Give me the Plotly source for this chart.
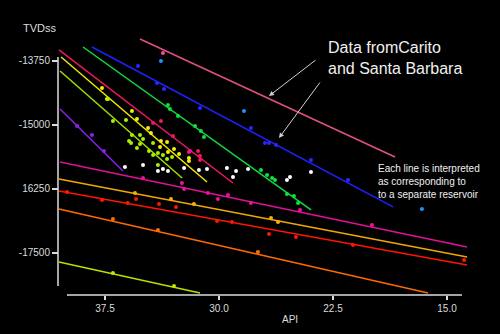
import plotly.graph_objects as go

# ---- Trend lines (API start, API end, TVDss start, TVDss end) ----
pink_line_api = [35.20, 18.42];   pink_line_tvd = [-13320, -15625]
blue_line_api = [38.36, 18.55];   blue_line_tvd = [-13477, -16601]
green_line_api = [38.95, 23.95];  green_line_tvd = [-13477, -16660]
crimson_line_api = [40.53, 29.08]; crimson_line_tvd = [-13535, -16133]
yellow_line_api = [40.39, 30.79]; yellow_line_tvd = [-13672, -16113]
chart_line_api = [40.46, 32.43];  chart_line_tvd = [-13945, -16035]
purple_line_api = [40.46, 36.32]; purple_line_tvd = [-14687, -15898]
magenta_line_api = [40.46, 13.68]; magenta_line_tvd = [-15723, -17383]
amber_line_api = [40.53, 13.68];  amber_line_tvd = [-16055, -17578]
red_line_api = [40.53, 13.68];    red_line_tvd = [-16289, -17734]
orange_line_api = [40.53, 16.25]; orange_line_tvd = [-16640, -18281]
lime_line_api = [40.53, 31.25];   lime_line_tvd = [-17676, -18281]

# ---- Well data points ----
pink_api = [33.69]; pink_tvd = [-13594]
ltblue_api = [33.82, 28.36, 16.65]; ltblue_tvd = [-13750, -14727, -16641]
blue_api = [35.33, 34.08, 33.62, 31.25, 27.90, 26.98, 26.71, 26.25, 23.95, 21.51]
blue_tvd = [-13848, -14180, -14297, -14668, -15059, -15352, -15352, -15391, -15684, -16074]
green_api = [33.36, 33.23, 32.70, 31.58, 31.19, 30.99, 27.24, 26.84, 26.51, 26.32, 25.53, 25.07, 24.80]
green_tvd = [-14610, -14688, -14824, -15020, -15117, -15235, -15879, -15977, -16035, -16074, -16348, -16387, -16524]
crimson_api = [34.34, 33.82, 33.03, 31.98, 31.38, 31.25, 31.25]
crimson_tvd = [-14961, -14922, -15215, -15528, -15508, -15606, -15684]
yellow_api = [37.70, 37.37, 35.73, 35.40, 34.67, 34.48, 33.82, 33.42, 33.88, 33.36, 32.96, 32.63, 31.98, 31.98]
yellow_tvd = [-14278, -14492, -14727, -14883, -15059, -15156, -15313, -15332, -15430, -15528, -15469, -15567, -15645, -15703]
chart_api = [37.30, 36.98, 36.12, 35.73, 35.20, 35.92, 35.79, 35.20, 35.00, 34.34, 35.40, 34.61, 34.02, 34.34, 33.69, 33.09, 33.42, 34.02]
chart_tvd = [-14492, -14922, -14903, -15196, -15196, -15313, -15352, -15371, -15274, -15352, -15449, -15508, -15547, -15586, -15586, -15625, -15664, -15781]
purple_api = [39.34, 38.36, 37.57]; purple_tvd = [-15020, -15196, -15508]
white_api = [36.19, 35.00, 34.02, 33.69, 33.36, 32.30, 31.32, 30.79, 29.48, 28.88, 29.08, 28.09, 25.53, 25.33, 23.95]
white_tvd = [-15821, -15781, -15899, -15860, -15899, -15840, -15879, -15860, -15840, -15899, -16016, -15860, -16074, -16016, -15918]
magenta_api = [35.00, 32.44, 32.30, 31.91, 30.73, 30.07, 29.41, 27.90, 24.67, 19.94]
magenta_tvd = [-16035, -16133, -16250, -15508, -16328, -16445, -16367, -16524, -16660, -16953]
amber_api = [35.53, 33.16, 31.65, 26.58, 26.12]
amber_tvd = [-16328, -16445, -16543, -16817, -16895]
red_api = [40.00, 37.70, 36.01, 35.46, 33.95, 32.83, 30.13, 29.15, 26.71, 24.94, 21.19, 13.88]
red_tvd = [-16309, -16465, -16524, -16445, -16543, -16602, -16875, -16895, -17129, -17188, -17344, -17637]
orange_api = [36.98, 34.02, 27.44]; orange_tvd = [-16836, -17051, -17481]
lime_api = [36.98, 32.96]; lime_tvd = [-17891, -18145]

# ---- Axis ticks ----
x_tickvals = [37.5, 30.0, 22.5, 15.0]
x_ticktext = ["37.5", "30.0", "22.5", "15.0"]
y_tickvals = [-13750, -15000, -16250, -17500]
y_ticktext = ["-13750", "-15000", "16250", "-17500"]

lines = [
    (pink_line_api, pink_line_tvd, "#e0508a"),
    (blue_line_api, blue_line_tvd, "#2020ff"),
    (green_line_api, green_line_tvd, "#10dd40"),
    (crimson_line_api, crimson_line_tvd, "#f01858"),
    (yellow_line_api, yellow_line_tvd, "#f0ea00"),
    (chart_line_api, chart_line_tvd, "#a0e000"),
    (purple_line_api, purple_line_tvd, "#8a20f0"),
    (magenta_line_api, magenta_line_tvd, "#e0109a"),
    (amber_line_api, amber_line_tvd, "#f0a800"),
    (red_line_api, red_line_tvd, "#ff1400"),
    (orange_line_api, orange_line_tvd, "#ff6a00"),
    (lime_line_api, lime_line_tvd, "#b8e000"),
]
points = [
    (pink_api, pink_tvd, "#f05090"),
    (ltblue_api, ltblue_tvd, "#2090ff"),
    (blue_api, blue_tvd, "#2828ff"),
    (green_api, green_tvd, "#10e040"),
    (crimson_api, crimson_tvd, "#f01860"),
    (yellow_api, yellow_tvd, "#f8f000"),
    (chart_api, chart_tvd, "#a8f000"),
    (purple_api, purple_tvd, "#9020f0"),
    (white_api, white_tvd, "#ffffff"),
    (magenta_api, magenta_tvd, "#f010a0"),
    (amber_api, amber_tvd, "#f8b000"),
    (red_api, red_tvd, "#ff1800"),
    (orange_api, orange_tvd, "#ff7000"),
    (lime_api, lime_tvd, "#c0e800"),
]

fig = go.Figure()
for xs, ys, c in lines:
    fig.add_trace(go.Scatter(x=xs, y=ys, mode="lines", line=dict(color=c, width=1.5),
                             hoverinfo="skip", showlegend=False))
for xs, ys, c in points:
    fig.add_trace(go.Scatter(x=xs, y=ys, mode="markers", marker=dict(color=c, size=4),
                             showlegend=False))

FONT = "Liberation Sans, Arial, sans-serif"
tickfont = dict(family=FONT, size=10, color="#dcdcdc")
fig.update_layout(
    width=500, height=334,
    paper_bgcolor="black", plot_bgcolor="black",
    margin=dict(l=50, r=20, t=30, b=34),
    xaxis=dict(range=[41.12, 12.83], showgrid=False, zeroline=False, showline=False,
               anchor="free", position=0.0185, tickmode="array",
               tickvals=x_tickvals, ticktext=x_ticktext, ticks="outside", ticklen=4,
               tickcolor="#dcdcdc", tickwidth=1.5, tickfont=tickfont),
    yaxis=dict(range=[-18418, -13145], showgrid=False, zeroline=False, showline=False,
               anchor="free", position=0.0186, tickmode="array",
               tickvals=y_tickvals, ticktext=y_ticktext, ticks="outside", ticklen=6,
               tickcolor="#dcdcdc", tickwidth=1.5, tickfont=tickfont),
    shapes=[
        dict(type="line", xref="paper", yref="paper", x0=0.0186, x1=0.0186, y0=0.0519, y1=0.9,
             line=dict(color="#dcdcdc", width=1.5)),
        dict(type="line", xref="paper", yref="paper", x0=0.0395, x1=0.958, y0=0.0185, y1=0.0185,
             line=dict(color="#dcdcdc", width=1.5)),
    ],
    annotations=[
        dict(text="TVDss", xref="paper", yref="paper", x=(40 - 50) / 430, y=(300 - 28) / 270,
             xanchor="center", yanchor="middle",
             showarrow=False, font=dict(family=FONT, size=11, color="#dcdcdc")),
        dict(text="API", xref="paper", yref="paper", x=(290 - 50) / 430, y=(300 - 320) / 270,
             xanchor="center", yanchor="middle",
             showarrow=False, font=dict(family=FONT, size=10, color="#dcdcdc")),
        dict(text="Data fromCarito<br>and Santa Barbara", xref="paper", yref="paper",
             x=(326 - 50) / 430, y=(300 - 58) / 270, xanchor="left", yanchor="middle", align="left",
             showarrow=False, font=dict(family=FONT, size=16, color="#f0f0f0")),
        dict(text="Each line is interpreted<br>as corresponding to<br>to a separate reservoir",
             xref="paper", yref="paper", x=(376 - 50) / 430, y=(300 - 181) / 270,
             xanchor="left", yanchor="middle", align="left", showarrow=False,
             font=dict(family=FONT, size=10, color="#f0f0f0")),
        dict(text="", xref="paper", yref="paper", x=(269 - 50) / 430, y=(300 - 96) / 270,
             ax=48, ay=-37, showarrow=True, arrowhead=2, arrowsize=1, arrowwidth=1, arrowcolor="#d0d0d0"),
        dict(text="", xref="paper", yref="paper", x=(279 - 50) / 430, y=(300 - 138) / 270,
             ax=42, ay=-57, showarrow=True, arrowhead=2, arrowsize=1, arrowwidth=1, arrowcolor="#d0d0d0"),
    ],
)
fig.write_html("out.html")
